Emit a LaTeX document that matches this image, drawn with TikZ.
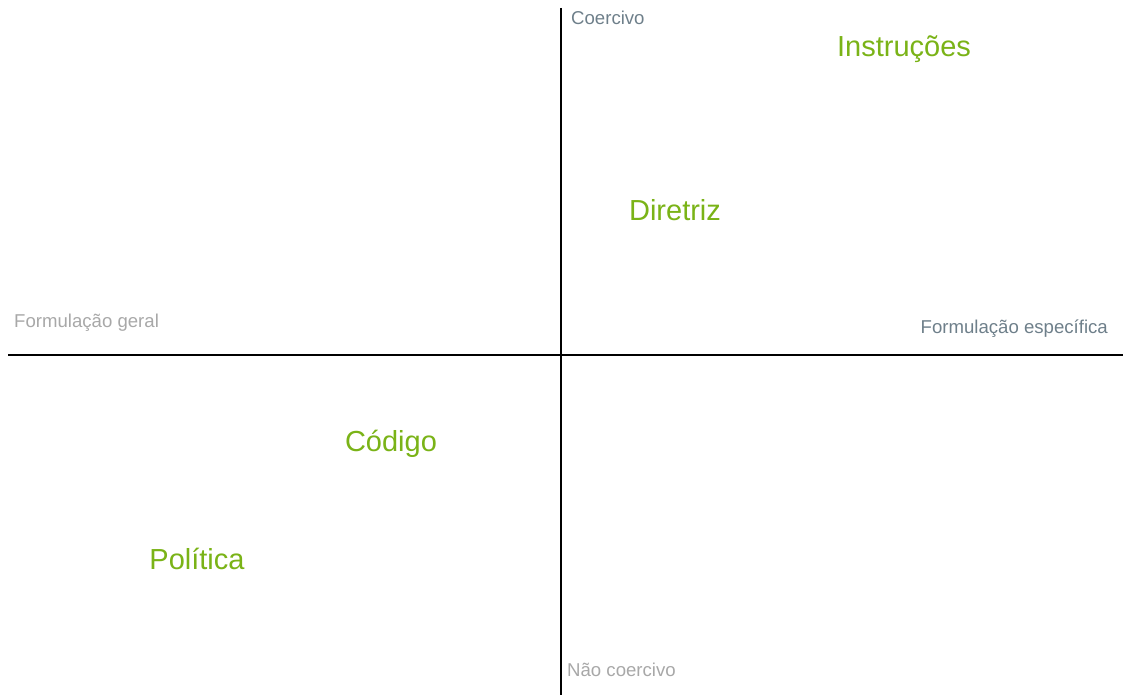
\documentclass[tikz,border=0pt]{standalone}
\usepackage{fontspec}
\setmainfont{Liberation Sans}
\definecolor{lblgreen}{HTML}{7AB317}
\definecolor{slate}{HTML}{6E7F8A}
\definecolor{lgray}{HTML}{A8A8A8}
\begin{document}
\begin{tikzpicture}[x=1pt,y=-1pt,
  axis/.style={draw=black,line width=1.6pt},
  big/.style={text=lblgreen,font=\fontsize{29}{32}\selectfont,inner sep=0pt},
  small/.style={font=\fontsize{18.6}{21}\selectfont,inner sep=0pt}]
\useasboundingbox (0,0) rectangle (1123,695);
\coordinate (vtop) at (561,8);
\coordinate (vbot) at (561,695);
\coordinate (hl) at (8,355);
\coordinate (hr) at (1123,355);
\draw[axis] (vtop) -- (vbot);
\draw[axis] (hl) -- (hr);
\node[small,text=slate,anchor=base west] (coer) at (571,25) {Coercivo};
\node[small,text=lgray,anchor=base west] (ncoer) at (567,676) {Não coercivo};
\node[small,text=lgray,anchor=base west] (fgeral) at (14,327) {Formulação geral};
\node[small,text=slate,anchor=base east] (fesp) at (1108,333) {Formulação específica};
\node[big,anchor=base] (instr) at (904,57) {Instruções};
\node[big,anchor=base] (dir) at (675,220) {Diretriz};
\node[big,anchor=base] (cod) at (391,451) {Código};
\node[big,anchor=base] (pol) at (197,569) {Política};
\end{tikzpicture}
\end{document}
